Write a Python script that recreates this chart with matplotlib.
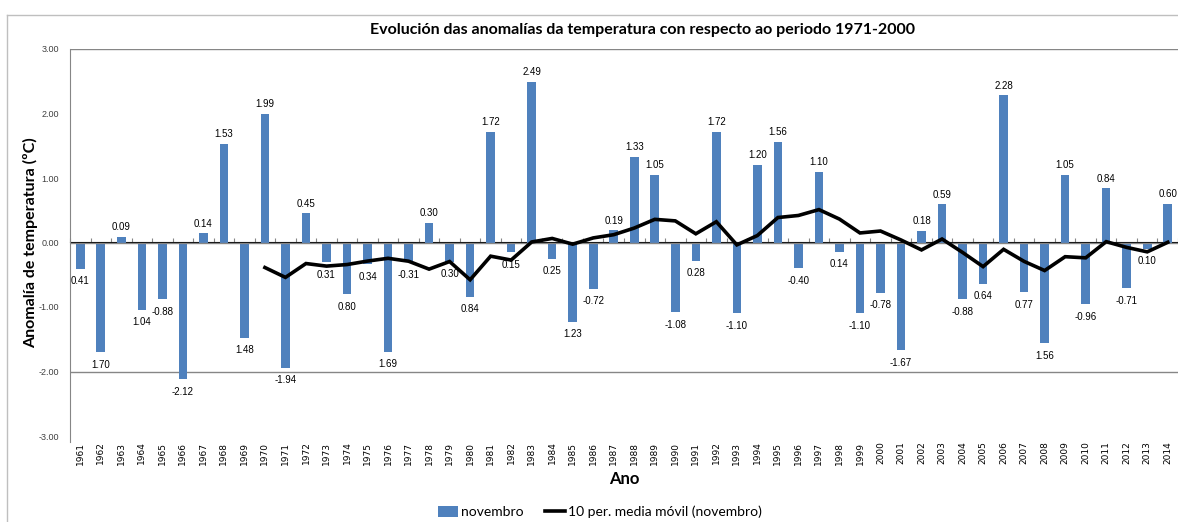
import numpy as np
import pandas as pd
import matplotlib
matplotlib.use('agg')
import matplotlib.pyplot as plt
from matplotlib.lines import Line2D

years = list(range(1961, 2015))
anomalies = [-0.41, -1.70, 0.09, -1.04, -0.88, -2.12, 0.14, 1.53, -1.48, 1.99,
             -1.94, 0.45, -0.31, -0.80, -0.34, -1.69, -0.31, 0.30, -0.30, -0.84,
             1.72, -0.15, 2.49, -0.25, -1.23, -0.72, 0.19, 1.33, 1.05, -1.08,
             -0.28, 1.72, -1.10, 1.20, 1.56, -0.40, 1.10, -0.14, -1.10, -0.78,
             -1.67, 0.18, 0.59, -0.88, -0.64, 2.28, -0.77, -1.56, 1.05, -0.96,
             0.84, -0.71, -0.10, 0.60]
# labels as printed on the chart (some minus signs are lost in the original)
bar_labels = ['0.41', '1.70', '0.09', '1.04', '-0.88', '-2.12', '0.14', '1.53', '1.48', '1.99',
              '-1.94', '0.45', '0.31', '0.80', '0.34', '1.69', '-0.31', '0.30', '0.30', '0.84',
              '1.72', '0.15', '2.49', '0.25', '1.23', '-0.72', '0.19', '1.33', '1.05', '-1.08',
              '0.28', '1.72', '-1.10', '1.20', '1.56', '-0.40', '1.10', '0.14', '-1.10', '-0.78',
              '-1.67', '0.18', '0.59', '-0.88', '0.64', '2.28', '0.77', '1.56', '1.05', '-0.96',
              '0.84', '-0.71', '0.10', '0.60']
y_ticks = [3, 2, 1, 0, -1, -2, -3]

moving_avg = pd.Series(anomalies).rolling(10).mean().values

blue = '#4F81BD'
grey = '#868686'
fnt = 'Lato'

fig = plt.figure(figsize=(11.78, 5.22), dpi=100)
ax = fig.add_axes([70 / 1178, 1 - 436 / 522, 1 - 70 / 1178, (436 - 49) / 522])

x = np.arange(len(years))
bars = ax.bar(x, anomalies, width=0.42, color=blue, zorder=2, label='novembro')
line, = ax.plot(x, moving_avg, color='black', lw=2.6, zorder=4,
                solid_joinstyle='miter', label='10 per. media móvil (novembro)')

for xi, v, lab in zip(x, anomalies, bar_labels):
    off = 7 if v >= 0 else -9
    ax.annotate(lab, (xi, v), xytext=(0, off), textcoords='offset points',
                ha='center', va='center', fontsize=7, family='Liberation Sans', zorder=5)

ax.set_xlim(-0.5, len(years) - 0.5)
ax.set_ylim(-3, 3)
ax.axhline(3, color=grey, lw=1, zorder=1)
ax.axhline(-2, color=grey, lw=1, zorder=1)
ax.axhline(0, color=grey, lw=1, zorder=3)

ax.set_yticks(y_ticks)
ax.set_yticklabels(['%.2f' % t for t in y_ticks], fontsize=6.5, color='#404040',
                   family='Liberation Sans')
ax.tick_params(axis='y', length=0, pad=8)
ax.set_xticks(x)
ax.set_xticklabels(years, rotation=90, fontsize=6.5, family='DejaVu Sans')
ax.tick_params(axis='x', length=0, pad=4)

for s in ['top', 'right', 'bottom']:
    ax.spines[s].set_visible(False)
ax.spines['left'].set_color(grey)
ax.spines['left'].set_bounds(-3.1, 3)

# category boundary ticks along the zero line
sec = ax.secondary_xaxis(0.5)
sec.set_xticks(np.arange(len(years) + 1) - 0.5)
sec.set_xticklabels([])
sec.tick_params(length=3, color=grey, direction='out')
sec.spines['bottom'].set_visible(False)

ax.set_ylabel('Anomalía de temperatura (ºC)', fontsize=11.5, fontweight='bold', family=fnt)
ax.yaxis.set_label_coords(-(70 - 31) / (1178 - 70), (436 - 243) / (436 - 49))
ax.set_xlabel('Ano', fontsize=12, fontweight='bold', family=fnt)
ax.xaxis.set_label_coords((624 - 70) / (1178 - 70), -(479 - 436) / (436 - 49))
ax.xaxis.label.set_va('center')
ax.yaxis.label.set_va('center')
fig.text(642 / 1178, 1 - 30 / 522,
         'Evolución das anomalías da temperatura con respecto ao periodo 1971-2000',
         ha='center', va='center', fontsize=11.5, fontweight='bold', family=fnt)

fig.legend([bars, line], ['novembro', '10 per. media móvil (novembro)'],
           loc='center', bbox_to_anchor=(600 / 1178, 1 - 512 / 522), ncol=2,
           frameon=False, prop={'family': fnt, 'size': 10},
           handlelength=1.4, handleheight=0.8, columnspacing=1.6, handletextpad=0.2)

fig.add_artist(Line2D([7 / 1178, 7 / 1178], [0, 1 - 15 / 522], color='#BFBFBF', lw=1))
fig.add_artist(Line2D([7 / 1178, 1], [1 - 15 / 522, 1 - 15 / 522], color='#BFBFBF', lw=1))

fig.savefig('out.png', dpi=100)
